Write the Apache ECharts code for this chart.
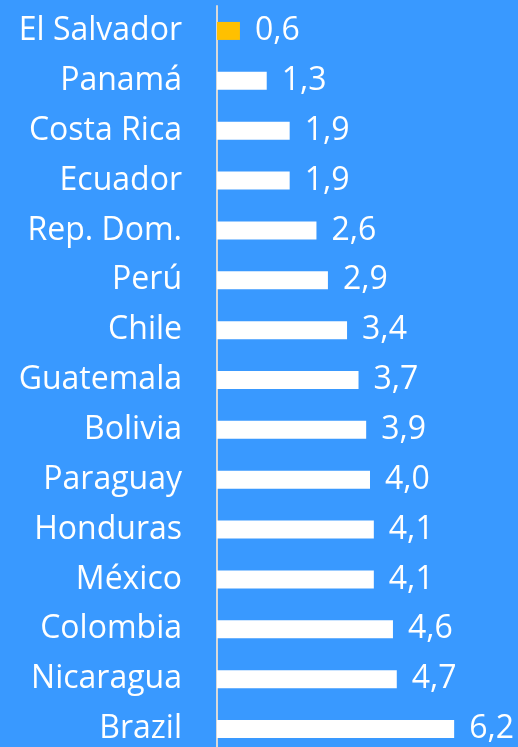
<!DOCTYPE html>
<html>
<head>
<meta charset="utf-8">
<script src="https://cdn.jsdelivr.net/npm/echarts@6/dist/echarts.min.js"></script>
<style>
  html, body { margin: 0; padding: 0; background: #3999ff; }
  #chart { width: 518px; height: 747px; }
</style>
</head>
<body>
<div id="chart"></div>
<script>
// países, de arriba hacia abajo
const countries = ['El Salvador', 'Panamá', 'Costa Rica', 'Ecuador', 'Rep. Dom.', 'Perú', 'Chile',
  'Guatemala', 'Bolivia', 'Paraguay', 'Honduras', 'México', 'Colombia', 'Nicaragua', 'Brazil']
const values = [0.6, 1.3, 1.9, 1.9, 2.6, 2.9, 3.4, 3.7, 3.9, 4.0, 4.1, 4.1, 4.6, 4.7, 6.2]
const highlight = 'El Salvador'

const chart = echarts.init(document.getElementById('chart'))
const font = '"Open Sans", sans-serif'

chart.setOption({
  backgroundColor: '#3999ff',
  animation: false,
  grid: { left: 217, top: 6, width: 306, height: 748, outerBoundsMode: 'none', containLabel: false },
  xAxis: {
    type: 'value',
    min: 0,
    max: 8,
    show: false
  },
  yAxis: {
    type: 'category',
    data: countries,
    inverse: true,
    axisLine: { show: true, lineStyle: { color: '#d9d9d9', width: 2 } },
    axisTick: { show: false },
    axisLabel: { color: '#fff', fontSize: 32, fontFamily: font, margin: 35 }
  },
  series: [{
    type: 'bar',
    barWidth: 18,
    data: values.map((v, i) => ({
      value: v,
      itemStyle: { color: countries[i] === highlight ? '#ffc000' : '#fff' }
    })),
    label: {
      show: true,
      position: 'right',
      distance: 15,
      color: '#fff',
      fontSize: 32,
      fontFamily: font,
      formatter: p => p.value.toFixed(1).replace('.', ',')
    }
  }]
})
</script>
</body>
</html>
